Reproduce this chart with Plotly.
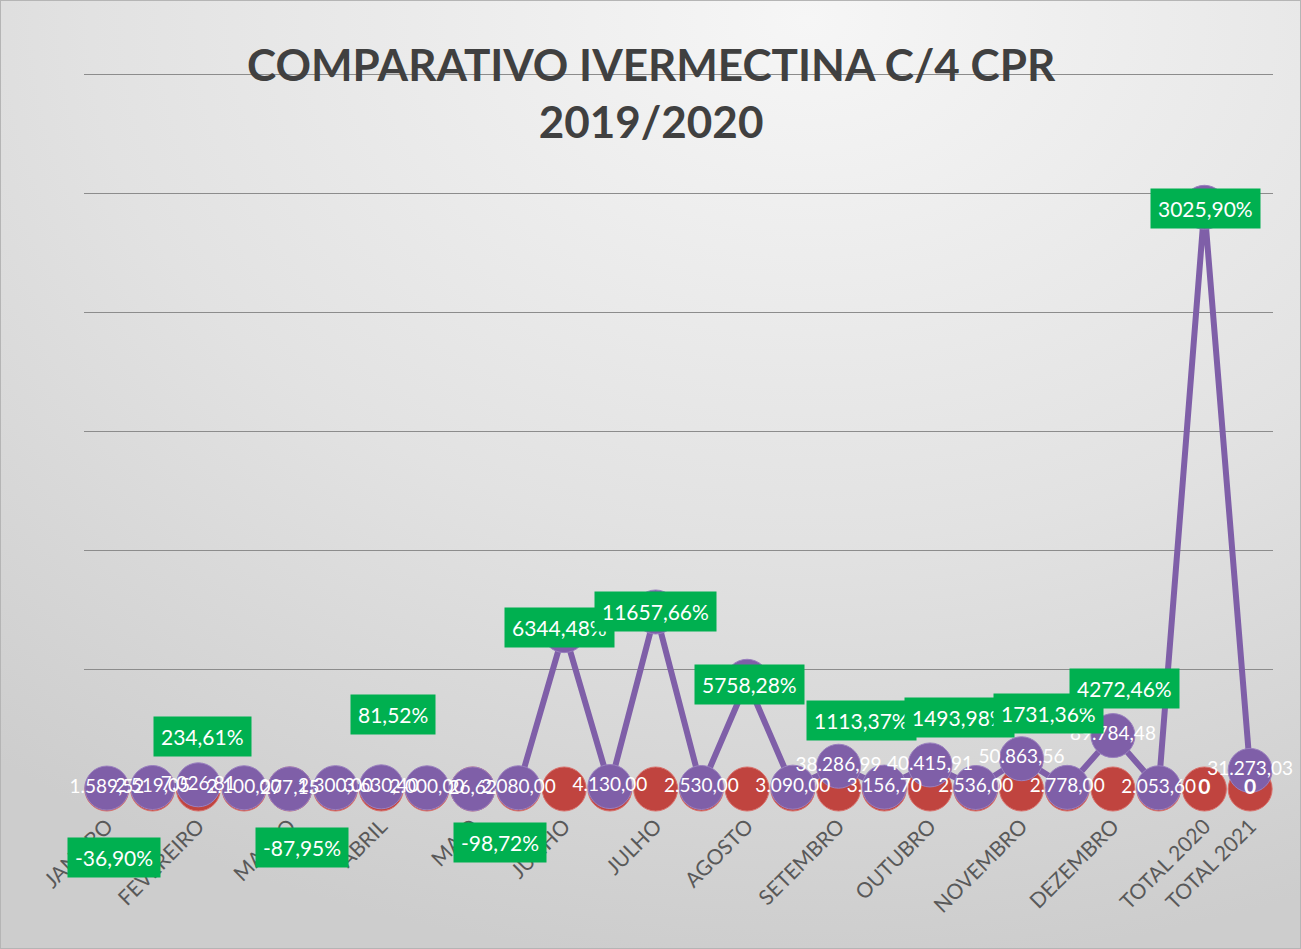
import base64
import plotly.graph_objects as go

# ---------------- data ----------------
titulo = "COMPARATIVO IVERMECTINA C/4 CPR<br>2019/2020"
meses = ["JANEIRO", "FEVEREIRO", "MARÇO", "ABRIL", "MAIO", "JUNHO", "JULHO",
         "AGOSTO", "SETEMBRO", "OUTUBRO", "NOVEMBRO", "DEZEMBRO"]
totais = ["TOTAL 2020", "TOTAL 2021"]

# monthly values (R$) - 2020 and 2019, interleaved on the axis
valores_2020 = [1589.52, 7026.81, 277.15, 3630.40, 26.62, 266157.03, 297469.40,
                181021.05, 38286.99, 40415.91, 50863.56, 89784.48]
valores_2019 = [2519.05, 2100.00, 2300.00, 2000.00, 2080.00, 4130.00, 2530.00,
                3090.00, 3156.70, 2536.00, 2778.00, 2053.60]
valores_totais = [977563.00, 31273.03]

# second (red) series: sits on the baseline everywhere
serie_vermelha = [0, 0, 0, 0, 0, 0, 0, 0, 0, 0, 0, 0, 0, 0, 0, 0, 0, 0, 0, 0,
                  0, 0, 0, 0, 0, 0]

# percentage variation labels (green boxes): 12 months + total
variacao_pct = [-36.90, 234.61, -87.95, 81.52, -98.72, 6344.48, 11657.66,
                5758.28, 1113.37, 1493.98, 1731.36, 4272.46, 3025.90]

# ---------------- layout helpers (placement of green labels) ----------------
rotulo_dx = [7, 4, 12, 12, 27, -5, 0, 2, 23, 29, 27, 12, 1]
rotulo_dy = [-69, 48, -59, 72, -54, 3, 0, -3, 46, 47, 45, 47, -1]

PURPLE = "#7F5FA8"
RED = "#C0443F"
GREEN = "#00B050"
FONT = "Lato, 'Open Sans', sans-serif"


def fmt_br(v):
    s = f"{v:,.2f}"
    return s.replace(",", "X").replace(".", ",").replace("X", ".")


def fmt_pct(v):
    return f"{v:.2f}".replace(".", ",") + "%"


# build the 26-position category axis
x_labels = []
y_roxo = []
for m, v20, v19 in zip(meses, valores_2020, valores_2019):
    x_labels += [m, ""]
    y_roxo += [v20, v19]
x_labels += totais
y_roxo += valores_totais
x_idx = list(range(len(x_labels)))

L, R, T, B = 84, 28, 69, 160
W, H = 1301, 949
pw, ph = W - L - R, H - T - B

fig = go.Figure()

# red series markers
fig.add_trace(go.Scatter(
    x=x_idx, y=serie_vermelha, mode="markers",
    marker=dict(size=44, color=RED, line=dict(color="#d9706b", width=1)),
    cliponaxis=False, hoverinfo="skip", showlegend=False))

# purple series line + markers
fig.add_trace(go.Scatter(
    x=x_idx, y=y_roxo, mode="lines+markers",
    line=dict(color=PURPLE, width=6),
    marker=dict(size=44, color=PURPLE, line=dict(color="#9a80bf", width=1)),
    cliponaxis=False, hoverinfo="skip", showlegend=False))

# red series labels (only readable on the two total points)
n_tot = len(valores_totais)
red_text = ["" for _ in serie_vermelha[:-n_tot]] + \
    ["<b>" + f"{v:.0f}" + "</b>" for v in serie_vermelha[-n_tot:]]
fig.add_trace(go.Scatter(
    x=x_idx, y=serie_vermelha, mode="text",
    text=red_text, textposition="middle center",
    textfont=dict(color="white", size=21, family=FONT),
    cliponaxis=False, hoverinfo="skip", showlegend=False))

# purple series labels
fig.add_trace(go.Scatter(
    x=x_idx, y=y_roxo, mode="text",
    text=[fmt_br(v) for v in y_roxo],
    textposition="middle center",
    textfont=dict(color="white", size=19, family=FONT),
    cliponaxis=False, hoverinfo="skip", showlegend=False))

# green percentage boxes anchored to the 2020 points
anchor_idx = [2 * k for k in range(12)] + [24]
annotations = []
for k, (pct, ai) in enumerate(zip(variacao_pct, anchor_idx)):
    annotations.append(dict(
        x=ai, y=y_roxo[ai], xref="x", yref="y",
        text=fmt_pct(pct), showarrow=False,
        xshift=rotulo_dx[k], yshift=rotulo_dy[k],
        bgcolor=GREEN, borderpad=7,
        font=dict(color="white", size=21, family=FONT)))

# title
annotations.append(dict(
    x=(651 - L) / pw, y=1 + (T - 92) / ph, xref="paper", yref="paper",
    xanchor="center", yanchor="middle", showarrow=False,
    text="<b>" + titulo + "</b>",
    font=dict(color="#404040", size=44, family=FONT)))

# background gradient as an inline SVG image
svg = (
    "<svg xmlns='http://www.w3.org/2000/svg' width='1301' height='949' "
    "viewBox='0 0 1301 949' preserveAspectRatio='none'>"
    "<defs><radialGradient id='g' cx='0.62' cy='0.02' r='1.0' fx='0.62' fy='0.02'>"
    "<stop offset='0' stop-color='#f6f6f6'/>"
    "<stop offset='0.55' stop-color='#e2e2e2'/>"
    "<stop offset='1' stop-color='#cdcdcd'/>"
    "</radialGradient></defs>"
    "<rect width='1301' height='949' fill='url(#g)'/>"
    "<rect x='0.5' y='0.5' width='1300' height='948' fill='none' stroke='#b5b5b5'/>"
    "</svg>")
svg_uri = "data:image/svg+xml;base64," + base64.b64encode(svg.encode()).decode()

fig.update_layout(
    width=W, height=H,
    margin=dict(l=L, r=R, t=T, b=B, pad=0),
    paper_bgcolor="#dcdcdc",
    plot_bgcolor="rgba(0,0,0,0)",
    annotations=annotations,
    images=[dict(source=svg_uri, xref="paper", yref="paper",
                 x=-L / pw, y=1 + T / ph, sizex=W / pw, sizey=H / ph,
                 xanchor="left", yanchor="top", sizing="stretch",
                 layer="below")],
    xaxis=dict(range=[-0.5, len(x_labels) - 0.5], tickmode="array",
               tickvals=x_idx, ticktext=x_labels, tickangle=-45,
               showgrid=False, zeroline=False, showline=False, ticks="",
               ticklabelstandoff=20,
               tickfont=dict(color="#595959", size=21, family=FONT)),
    yaxis=dict(range=[0, 1210000], dtick=200000, showgrid=True,
               gridcolor="#8c8c8c", gridwidth=1.3, zeroline=False,
               showline=False, showticklabels=False),
)

fig.write_html("out.html", include_plotlyjs=True,
               config={"displayModeBar": False},
               post_script="document.body.style.margin='0';document.body.style.overflow='hidden';")
